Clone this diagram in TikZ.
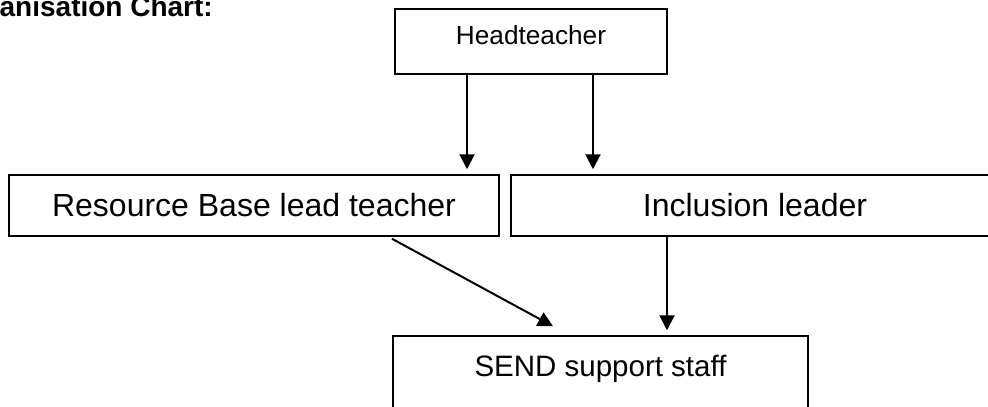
\documentclass[tikz,border=0pt]{standalone}
\usepackage{fontspec}
\setmainfont{Liberation Sans}
\usetikzlibrary{arrows.meta}

\tikzset{
  post/.style={draw=black, line width=1.5bp, inner xsep=0pt, inner ysep=0pt},
  link/.style={line width=2bp, -{Triangle[width=15bp,length=15bp]}},
}

\begin{document}
\begin{tikzpicture}[x=1bp, y=-1bp]
  \useasboundingbox (0,0) rectangle (988,406);
  \clip (0,0) rectangle (988,406);

  % heading, partly off the left edge
  \node[anchor=base east, inner sep=0pt, font=\fontsize{28bp}{32bp}\selectfont\bfseries]
    (title) at (213,16.5) {Organisation Chart:};

  % posts
  \node[post, minimum width=272bp, minimum height=65bp,
        text height=18bp, text depth=12.4bp, font=\fontsize{26.2bp}{30bp}\selectfont]
    (head) at (531,41.5) {Headteacher};
  \node[post, minimum width=490bp, minimum height=61bp,
        text height=22bp, text depth=1bp, font=\fontsize{32bp}{36bp}\selectfont]
    (rblt) at (254,205.5) {Resource Base lead teacher};
  \node[post, minimum width=488bp, minimum height=61bp,
        text height=22bp, text depth=1bp, font=\fontsize{32bp}{36bp}\selectfont]
    (incl) at (755,205.5) {Inclusion leader};
  \node[post, minimum width=415bp, minimum height=90bp,
        text height=21bp, text depth=31bp, font=\fontsize{29.5bp}{34bp}\selectfont]
    (send) at (600.5,381) {SEND support staff};

  % reporting lines
  \draw[link, shorten >=5bp] ([xshift=-64bp]head.south) -- ([xshift=-64bp]head.south |- rblt.north);
  \draw[link, shorten >=5bp] ([xshift=62bp]head.south) -- ([xshift=62bp]head.south |- incl.north);
  \draw[link] ([xshift=138bp,yshift=-2bp]rblt.south) -- ([xshift=-47.5bp,yshift=9bp]send.north);
  \draw[link, shorten >=5bp] ([xshift=-88bp]incl.south) -- ([xshift=-88bp]incl.south |- send.north);
\end{tikzpicture}
\end{document}
